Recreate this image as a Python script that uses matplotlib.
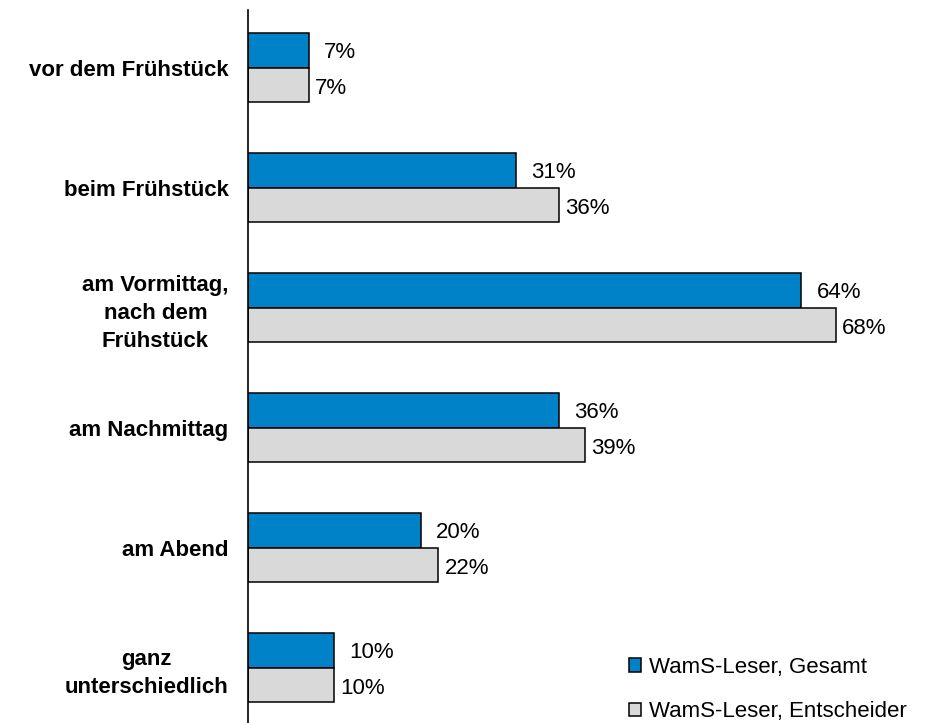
import matplotlib

matplotlib.use("Agg")
import matplotlib.pyplot as plt
from matplotlib.patches import Patch

plt.rcParams["font.family"] = ["Liberation Sans", "DejaVu Sans"]

categories = [
    "vor dem Frühstück",
    "beim Frühstück",
    "am Vormittag,\nnach dem\nFrühstück",
    "am Nachmittag",
    "am Abend",
    "ganz\nunterschiedlich",
]
gesamt = [7, 31, 64, 36, 20, 10]
entscheider = [7, 36, 68, 39, 22, 10]
series_names = ["WamS-Leser, Gesamt", "WamS-Leser, Entscheider"]

BLUE = "#0082C8"
GREY = "#D9D9D9"
FS = 16

fig = plt.figure(figsize=(9.33, 7.23), dpi=100)
ax = fig.add_axes([248 / 933, 0, 1 - 248 / 933, 1 - 10 / 723])

y = list(range(len(categories)))
h = 0.29
ax.barh([i - h / 2 for i in y], gesamt, height=h, color=BLUE,
        edgecolor="black", linewidth=1.1)
ax.barh([i + h / 2 for i in y], entscheider, height=h, color=GREY,
        edgecolor="black", linewidth=1.1)

# value labels, blue ones sit a bit further out than the grey ones
for i, (a, b) in enumerate(zip(gesamt, entscheider)):
    ax.annotate(f"{a}%", (a, i - h / 2), xytext=(11, -2),
                textcoords="offset points", va="center", fontsize=FS)
    ax.annotate(f"{b}%", (b, i + h / 2), xytext=(4.5, -2.5),
                textcoords="offset points", va="center", fontsize=FS)

ax.set_xlim(0, 685 / 8.647)
ax.set_ylim(5 + 55.5 / 120, -0.48)
ax.set_yticks(y)
ax.set_yticklabels(categories, fontsize=FS, fontweight="bold")
for lbl in ax.get_yticklabels():
    lbl.set_multialignment("center")
    lbl.set_linespacing(1.45)
ax.tick_params(axis="y", length=0, pad=14)
ax.set_xticks([])
for side in ["top", "right", "bottom"]:
    ax.spines[side].set_visible(False)
ax.spines["left"].set_linewidth(1.2)

handles = [Patch(facecolor=BLUE, edgecolor="black", linewidth=1.1),
           Patch(facecolor=GREY, edgecolor="black", linewidth=1.1)]
fig.legend(handles, series_names, loc="upper left",
           bbox_to_anchor=(629 / 933, 1 - 657 / 723), frameon=False,
           fontsize=FS, handlelength=0.55, handleheight=0.55,
           handletextpad=0.35, labelspacing=1.05, borderpad=0,
           borderaxespad=0)

fig.savefig("out.png", dpi=100)
